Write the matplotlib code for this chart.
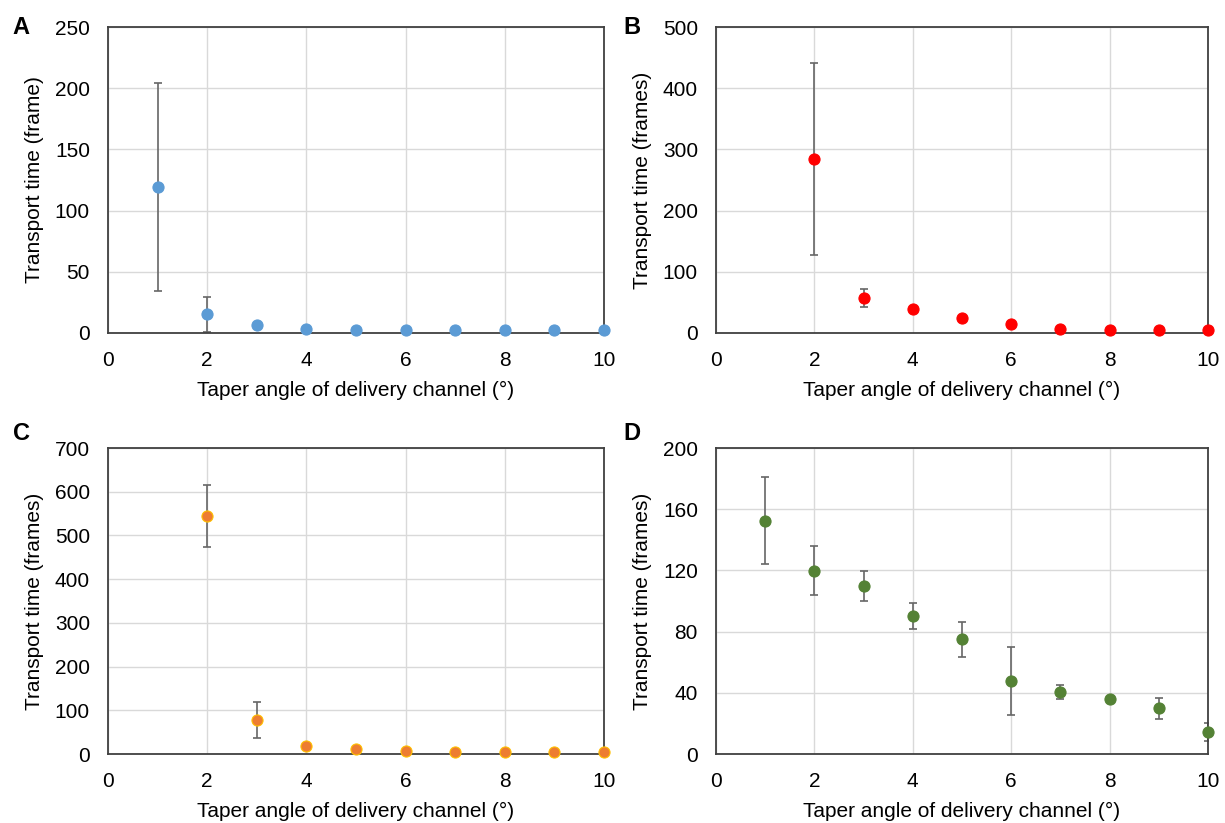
import numpy as np
import matplotlib.pyplot as plt

plt.rcParams['font.family'] = ['Liberation Sans', 'DejaVu Sans']

angles = [1, 2, 3, 4, 5, 6, 7, 8, 9, 10]

# panel A
a_x = angles
a_y = [119, 15.2, 6.8, 3.5, 2.7, 2.7, 2.7, 2.7, 2.7, 2.7]
a_err = [85, 14, 0, 0, 0, 0, 0, 0, 0, 0]

# panel B (no data at 1 deg)
b_x = angles[1:]
b_y = [284, 57, 40, 24.5, 15, 7, 5.4, 5.4, 5.4]
b_err = [157, 15, 0, 0, 0, 0, 0, 0, 0]

# panel C
c_x = angles[1:]
c_y = [545, 78, 18, 12, 7.6, 4.6, 4.6, 4.6, 4.6]
c_err = [71, 42, 0, 0, 0, 0, 0, 0, 0]

# panel D
d_x = angles
d_y = [152.6, 119.9, 109.9, 90.3, 74.9, 47.7, 40.7, 36.1, 29.8, 14.4]
d_err = [28.6, 16.3, 9.7, 8.6, 11.6, 22.5, 4.7, 1.0, 6.7, 5.8]

W, H = 1225, 823
fig = plt.figure(figsize=(W / 100, H / 100), dpi=100)

def px_axes(l, t, r, b):
    return fig.add_axes([l / W, 1 - b / H, (r - l) / W, (b - t) / H])

panels = [
    # letter, box, x, y, err, ymax, ystep, ylabel, color, edge, letter pos
    ('A', (108, 27, 604, 333), a_x, a_y, a_err, 250, 50, 'Transport time (frame)', '#5B9BD5', '#5B9BD5', (21, 27)),
    ('B', (716, 27, 1208, 333), b_x, b_y, b_err, 500, 100, 'Transport time (frames)', '#FF0000', '#FF0000', (632, 27)),
    ('C', (108, 448, 604, 754), c_x, c_y, c_err, 700, 100, 'Transport time (frames)', '#ED7D31', '#FFC000', (21, 434)),
    ('D', (716, 448, 1208, 754), d_x, d_y, d_err, 200, 40, 'Transport time (frames)', '#548235', '#548235', (632, 434)),
]

for letter, box, x, y, err, ymax, ystep, ylab, col, edge, lpos in panels:
    ax = px_axes(*box)
    ax.errorbar(x, y, yerr=err, fmt='none', ecolor='#666666', elinewidth=1.2,
                capsize=3, capthick=1.2, zorder=2)
    ax.plot(x, y, 'o', color=col, markeredgecolor=edge, markeredgewidth=0.8,
            markersize=8, zorder=3, clip_on=False)
    ax.set_xlim(0, 10)
    ax.set_ylim(0, ymax)
    ax.set_xticks(np.arange(0, 11, 2))
    ax.set_yticks(np.arange(0, ymax + 1, ystep))
    ax.grid(True, color='#D9D9D9', linewidth=1)
    ax.set_axisbelow(True)
    ax.tick_params(length=0, labelsize=15, colors='black')
    ax.tick_params(axis='x', pad=13)
    ax.tick_params(axis='y', pad=13)
    for s in ax.spines.values():
        s.set_color('#404040')
        s.set_linewidth(1.3)
    ax.set_xlabel('Taper angle of delivery channel (°)', fontsize=15, labelpad=8)
    ax.set_ylabel(ylab, fontsize=15, labelpad=8)
    fig.text(lpos[0] / W, 1 - lpos[1] / H, letter, fontsize=17, fontweight='bold',
             ha='center', va='center')

fig.savefig('out.png', dpi=100)
